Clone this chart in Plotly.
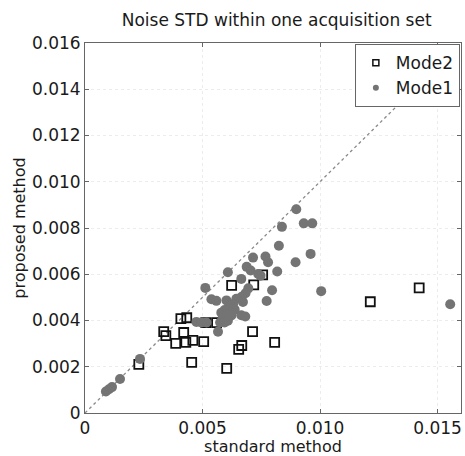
import plotly.graph_objects as go

# Mode2 (open squares): standard method vs proposed method
mode2_x = [0.00229, 0.00335, 0.00344, 0.00408, 0.00433, 0.00420, 0.00386, 0.00429,
           0.00459, 0.00454, 0.00505, 0.00514, 0.00560, 0.00603, 0.00654, 0.00667,
           0.00713, 0.00807, 0.00624, 0.00718, 0.00756, 0.01214, 0.01422]
mode2_y = [0.00210, 0.00352, 0.00335, 0.00408, 0.00412, 0.00348, 0.00301, 0.00305,
           0.00314, 0.00219, 0.00309, 0.00391, 0.00391, 0.00193, 0.00275, 0.00292,
           0.00352, 0.00305, 0.00552, 0.00554, 0.00597, 0.00481, 0.00541]

# Mode1 (filled gray circles)
mode1_x = [0.00089, 0.00102, 0.00115, 0.00149, 0.00234, 0.00512, 0.00538, 0.00559,
           0.00474, 0.00495, 0.00517, 0.00899, 0.00931, 0.00967, 0.00838, 0.00825,
           0.00960, 0.00896, 0.00715, 0.00768, 0.00779, 0.00688, 0.00705, 0.00608,
           0.00737, 0.00747, 0.00818, 0.00665, 0.00796, 0.01005, 0.00695, 0.00683,
           0.00667, 0.00602, 0.00616, 0.00644, 0.00630, 0.00637, 0.00613, 0.00594,
           0.00580, 0.00602, 0.00623, 0.00587, 0.00608, 0.00575, 0.00594, 0.00566,
           0.00665, 0.00682, 0.00773, 0.01554, 0.00672]
mode1_y = [0.00093, 0.00103, 0.00112, 0.00147, 0.00234, 0.00541, 0.00492, 0.00485,
           0.00394, 0.00391, 0.00391, 0.00881, 0.00820, 0.00820, 0.00805, 0.00723,
           0.00688, 0.00652, 0.00672, 0.00677, 0.00652, 0.00632, 0.00616, 0.00609,
           0.00601, 0.00594, 0.00612, 0.00580, 0.00531, 0.00527, 0.00539, 0.00518,
           0.00503, 0.00487, 0.00470, 0.00494, 0.00470, 0.00447, 0.00455, 0.00445,
           0.00434, 0.00427, 0.00422, 0.00410, 0.00399, 0.00391, 0.00391, 0.00351,
           0.00423, 0.00417, 0.00484, 0.00470, 0.00480]

x_ticks = [0, 0.005, 0.010, 0.015]
x_tick_labels = ["0", "0.005", "0.010", "0.015"]
y_ticks = [0, 0.002, 0.004, 0.006, 0.008, 0.010, 0.012, 0.014, 0.016]
y_tick_labels = ["0", "0.002", "0.004", "0.006", "0.008", "0.010", "0.012", "0.014", "0.016"]
axis_range = [0, 0.016]

FONT = "DejaVu Sans, sans-serif"
TXT = "#1a1a1a"
SQ_COLOR = "#111111"
DOT_COLOR = "#747474"

fig = go.Figure()

# identity line y = x
fig.add_trace(go.Scatter(
    x=axis_range, y=axis_range, mode="lines",
    line=dict(color="#8a8a8a", width=1.3, dash="dot"),
    showlegend=False, hoverinfo="skip"))

fig.add_trace(go.Scatter(
    x=mode2_x, y=mode2_y, mode="markers", name="Mode2", showlegend=False,
    marker=dict(symbol="square-open", size=9, color=SQ_COLOR,
                line=dict(color=SQ_COLOR, width=1.8))))

fig.add_trace(go.Scatter(
    x=mode1_x, y=mode1_y, mode="markers", name="Mode1", showlegend=False,
    marker=dict(symbol="circle", size=10, color=DOT_COLOR, line=dict(width=0))))

# legend entries with smaller symbols, as in the reference
fig.add_trace(go.Scatter(
    x=[None], y=[None], mode="markers", name="Mode2",
    marker=dict(symbol="square-open", size=6, color=SQ_COLOR,
                line=dict(color=SQ_COLOR, width=1.5))))
fig.add_trace(go.Scatter(
    x=[None], y=[None], mode="markers", name="Mode1",
    marker=dict(symbol="circle", size=6, color=DOT_COLOR, line=dict(width=0))))

axis_common = dict(
    range=axis_range, showgrid=True, gridcolor="#ececec", griddash="dot",
    gridwidth=1, zeroline=False, showline=True, linecolor="#666666",
    linewidth=1, mirror="ticks", ticks="inside", ticklen=4,
    tickcolor="#666666", tickfont=dict(family=FONT, size=17, color=TXT),
)

fig.update_xaxes(**axis_common, tickvals=x_ticks, ticktext=x_tick_labels,
                 title=dict(text="standard method", standoff=0,
                            font=dict(family=FONT, size=16, color=TXT)))
fig.update_yaxes(**axis_common, tickvals=y_ticks, ticktext=y_tick_labels,
                 title=dict(text="proposed method", standoff=2,
                            font=dict(family=FONT, size=16, color=TXT)))

fig.update_layout(
    width=465, height=456,
    margin=dict(l=85, r=4, t=43, b=43),
    paper_bgcolor="white", plot_bgcolor="white",
    title=dict(text="Noise STD within one acquisition set", x=0.595, xanchor="center",
               y=0.955, yanchor="middle",
               font=dict(family=FONT, size=17, color=TXT)),
    legend=dict(x=0.997, y=0.997, xanchor="right", yanchor="top",
                bgcolor="white", bordercolor="#666666", borderwidth=1,
                font=dict(family=FONT, size=17, color=TXT),
                itemwidth=30, tracegroupgap=0),
    showlegend=True,
)

fig.write_html("out.html")
